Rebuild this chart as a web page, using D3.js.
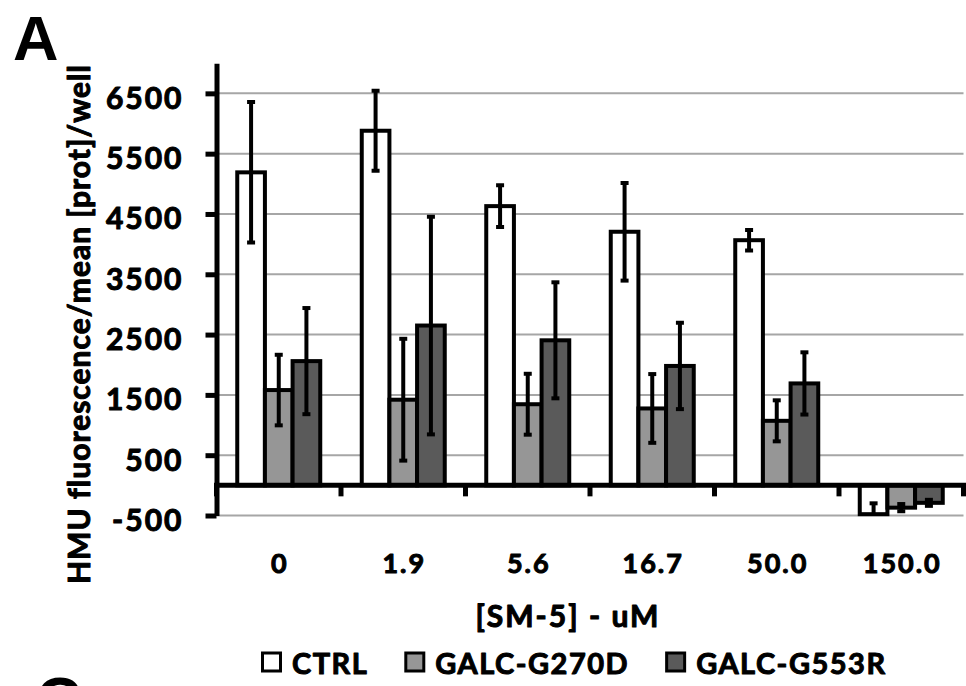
<!DOCTYPE html>
<html>
<head>
<meta charset="utf-8">
<script src="https://cdn.jsdelivr.net/npm/d3@7/dist/d3.min.js"></script>
<style>
  html, body { margin: 0; padding: 0; background: #fff; }
  svg { display: block; }
  text.lbl {
    font-family: Lato, "Open Sans", sans-serif; font-weight: 700; fill: #000;
    stroke: #000; stroke-width: 1px; paint-order: stroke; stroke-linejoin: round;
  }
</style>
</head>
<body>
<svg id="chart" width="966" height="686"></svg>
<script>
// SM-5 concentration groups (uM)
const categories = ["0", "1.9", "5.6", "16.7", "50.0", "150.0"];
const seriesNames = ["CTRL", "GALC-G270D", "GALC-G553R"];

// Mean HMU fluorescence normalised to protein, per well
const ctrlValues   = [5190, 5880, 4630, 4205, 4065, -478];
const g270dValues  = [1580, 1420, 1345, 1275, 1070, -370];
const g553rValues  = [2060, 2650, 2405, 1980, 1690, -290];

// Standard deviations
const ctrlErrors   = [1165, 665, 345, 810, 170, 180];
const g270dErrors  = [585, 1010, 505, 570, 340, 60];
const g553rErrors  = [880, 1805, 962, 716, 516, 50];

const yTicks = [-500, 500, 1500, 2500, 3500, 4500, 5500, 6500];
const seriesColors = ["#ffffff", "#969696", "#5a5a5a"];

const svg = d3.select("#chart");
const plot = { left: 216.5, right: 963.5, top: 63.2, bottom: 515.5 };

const y = d3.scaleLinear().domain([-500, 7000]).range([plot.bottom, plot.top]);
const x = d3.scaleBand().domain(categories).range([plot.left, plot.right]).padding(0);
const step = x.bandwidth();
const barW = step / 4.5;              // gap width of 150 %
const inner = d3.scaleBand().domain(seriesNames)
  .range([(step - 3 * barW) / 2, (step + 3 * barW) / 2]).padding(0);

const valueSets = [ctrlValues, g270dValues, g553rValues];
const errorSets = [ctrlErrors, g270dErrors, g553rErrors];
const rows = [];
seriesNames.forEach((s, si) => {
  categories.forEach((c, ci) => {
    rows.push({ series: s, si, cat: c, value: valueSets[si][ci], err: errorSets[si][ci] });
  });
});

// clip for error bars that run past the value axis minimum
svg.append("defs").append("clipPath").attr("id", "plotClip")
  .append("rect")
  .attr("x", plot.left).attr("y", plot.top)
  .attr("width", plot.right - plot.left + 4).attr("height", plot.bottom - plot.top);

// horizontal gridlines
svg.append("g").selectAll("line").data(yTicks).join("line")
  .attr("x1", plot.left).attr("x2", plot.right)
  .attr("y1", d => y(d)).attr("y2", d => y(d))
  .attr("stroke", "#a6a6a6").attr("stroke-width", 2);

// bars
svg.append("g").selectAll("rect").data(rows).join("rect")
  .attr("x", d => x(d.cat) + inner(d.series))
  .attr("width", inner.bandwidth())
  .attr("y", d => y(Math.max(0, d.value)))
  .attr("height", d => Math.abs(y(d.value) - y(0)))
  .attr("fill", d => seriesColors[d.si])
  .attr("stroke", "#000").attr("stroke-width", 4);

// error bars
const eb = svg.append("g").attr("clip-path", "url(#plotClip)")
  .selectAll("g").data(rows).join("g")
  .attr("transform", d => `translate(${x(d.cat) + inner(d.series) + inner.bandwidth() / 2},0)`);
eb.append("line")
  .attr("y1", d => y(d.value + d.err)).attr("y2", d => y(d.value - d.err))
  .attr("stroke", "#000").attr("stroke-width", 4);
eb.selectAll("line.cap").data(d => [d.value + d.err, d.value - d.err]).join("line")
  .attr("class", "cap")
  .attr("x1", -4).attr("x2", 4)
  .attr("y1", v => y(v)).attr("y2", v => y(v))
  .attr("stroke", "#000").attr("stroke-width", 4);

// value axis
const yAxis = svg.append("g").attr("transform", `translate(${plot.left},0)`)
  .call(d3.axisLeft(y).tickValues(yTicks).tickFormat(d => String(d))
    .tickSizeInner(11).tickSizeOuter(0).tickPadding(0));
yAxis.select(".domain").attr("stroke", "#000").attr("stroke-width", 5);
yAxis.selectAll(".tick line").attr("stroke", "#000").attr("stroke-width", 5);
yAxis.selectAll(".tick text")
  .attr("class", "lbl")
  .attr("x", -33).attr("dy", "15px")
  .style("font-size", "30px").style("letter-spacing", "2px");
yAxis.attr("font-family", null).attr("font-size", null);

// category axis at zero
const x0 = y(0);
const xAxis = svg.append("g");
xAxis.append("line")
  .attr("x1", plot.left).attr("x2", plot.right)
  .attr("y1", x0).attr("y2", x0)
  .attr("stroke", "#000").attr("stroke-width", 5).attr("stroke-linecap", "square");
const bounds = categories.map(c => x(c)).concat([x.range()[1]]);
xAxis.selectAll("line.tick").data(bounds).join("line")
  .attr("class", "tick")
  .attr("x1", d => d).attr("x2", d => d)
  .attr("y1", x0).attr("y2", x0 + 11)
  .attr("stroke", "#000").attr("stroke-width", 5);

// category labels
svg.append("g").selectAll("text").data(categories).join("text")
  .attr("class", "lbl")
  .attr("x", d => x(d) + step / 2 + 1)
  .attr("y", 573)
  .attr("text-anchor", "middle")
  .style("font-size", "27px").style("letter-spacing", "2px")
  .text(d => d);

// axis titles
svg.append("text")
  .attr("class", "lbl")
  .attr("x", 568).attr("y", 627)
  .attr("text-anchor", "middle")
  .style("font-size", "30px").style("letter-spacing", "2px")
  .text("[SM-5] - uM");

svg.append("text")
  .attr("class", "lbl")
  .attr("transform", "translate(90,324) rotate(-90)")
  .attr("text-anchor", "middle")
  .style("font-size", "30px").style("letter-spacing", "1px")
  .text("HMU fluorescence/mean [prot]/well");

// legend
const legend = svg.append("g");
let lx = 261;
seriesNames.forEach((s, i) => {
  legend.append("rect")
    .attr("x", lx + 1.5).attr("y", 653)
    .attr("width", 18).attr("height", 18)
    .attr("fill", seriesColors[i]).attr("stroke", "#000").attr("stroke-width", 3);
  const t = legend.append("text")
    .attr("class", "lbl")
    .attr("x", lx + 31).attr("y", 674)
    .style("font-size", "29px").style("letter-spacing", "1.5px")
    .text(s);
  lx = lx + 31 + t.node().getComputedTextLength() + 36;
});

// panel letters
svg.append("text")
  .attr("x", 13).attr("y", 60)
  .style("font-family", "'Liberation Sans', Arial, sans-serif")
  .style("font-weight", 700)
  .style("font-size", "63px")
  .text("A");
svg.append("text")
  .attr("x", 36).attr("y", 721)
  .style("font-family", "'Liberation Sans', Arial, sans-serif")
  .style("font-weight", 700)
  .style("font-size", "63px")
  .text("C");
</script>
</body>
</html>
